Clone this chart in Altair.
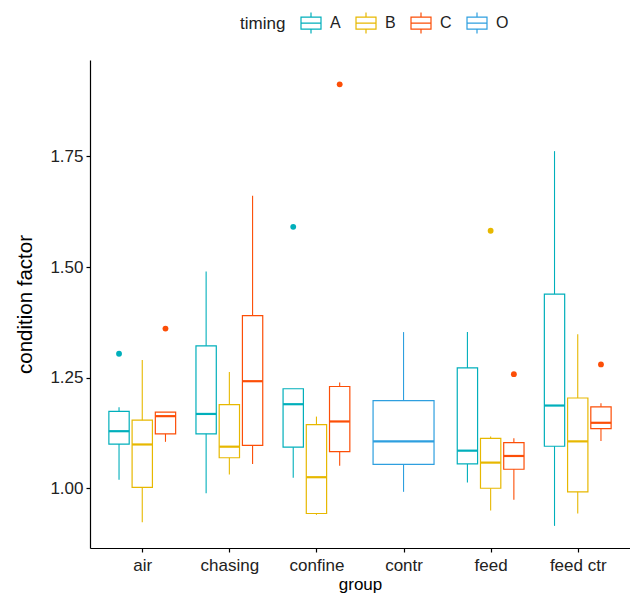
import altair as alt
import pandas as pd

groups = ["air", "chasing", "confine", "contr", "feed", "feed ctr"]
timings = ["A", "B", "C", "O"]
colors = ["#00AFBB", "#E7B800", "#FC4E07", "#2E9FDF"]

box_group = ["air", "air", "air", "chasing", "chasing", "chasing",
             "confine", "confine", "confine", "contr",
             "feed", "feed", "feed", "feed ctr", "feed ctr", "feed ctr"]
box_timing = ["A", "B", "C", "A", "B", "C", "A", "B", "C", "O",
              "A", "B", "C", "A", "B", "C"]
lower = [1.019, 0.923, 1.105, 0.989, 1.031, 1.055, 1.024, 0.940, 1.051, 0.992,
         1.013, 0.950, 0.974, 0.915, 0.943, 1.107]
q1 = [1.100, 1.002, 1.123, 1.123, 1.069, 1.097, 1.093, 0.943, 1.083, 1.054,
      1.055, 1.000, 1.043, 1.095, 0.992, 1.135]
median = [1.129, 1.099, 1.163, 1.168, 1.094, 1.242, 1.190, 1.025, 1.151, 1.106,
          1.085, 1.058, 1.073, 1.187, 1.106, 1.148]
q3 = [1.174, 1.154, 1.172, 1.322, 1.189, 1.390, 1.225, 1.144, 1.230, 1.198,
      1.272, 1.113, 1.103, 1.439, 1.204, 1.184]
upper = [1.183, 1.290, 1.172, 1.490, 1.263, 1.661, 1.225, 1.162, 1.239, 1.353,
         1.353, 1.117, 1.113, 1.762, 1.348, 1.192]

out_group = ["air", "air", "confine", "confine", "feed", "feed", "feed ctr"]
out_timing = ["A", "C", "A", "C", "B", "C", "C"]
out_value = [1.304, 1.361, 1.591, 1.913, 1.582, 1.258, 1.280]

# dodge layout (position_dodge 0.8, box width 0.7)
per_group = {g: [t for gg, t in zip(box_group, box_timing) if gg == g] for g in groups}


def layout(g, t):
    ts = per_group[g]
    n = len(ts)
    slot = ts.index(t)
    center = groups.index(g) + (slot - (n - 1) / 2) * 0.8 / n
    half = 0.7 / n / 2
    return center, center - half, center + half


rows = []
for g, t, lo, a, m, b, hi in zip(box_group, box_timing, lower, q1, median, q3, upper):
    c, l, r = layout(g, t)
    rows.append(dict(group=g, timing=t, lower=lo, q1=a, median=m, q3=b, upper=hi,
                     xc=c, xl=l, xr=r))
boxes = pd.DataFrame(rows)

orows = []
for g, t, v in zip(out_group, out_timing, out_value):
    c, l, r = layout(g, t)
    orows.append(dict(group=g, pt_timing=t, value=v, xc=c))
outs = pd.DataFrame(orows)

label_expr = "[" + ",".join("'" + g + "'" for g in groups) + "][datum.value]"

xscale = alt.Scale(domain=[-0.6, len(groups) - 0.4], nice=False, zero=False)
yscale = alt.Scale(domain=[0.865, 1.968], nice=False, zero=False)
cscale = alt.Scale(domain=timings, range=colors)

xaxis = alt.Axis(values=list(range(len(groups))), labelExpr=label_expr, title="group",
                 grid=False, tickSize=4, labelPadding=5, labelFontSize=17,
                 titleFontSize=17, titlePadding=3)
yaxis = alt.Axis(values=[1.0, 1.25, 1.5, 1.75], format=".2f", title="condition factor",
                 grid=False, tickSize=4, labelPadding=3, labelFontSize=17,
                 titleFontSize=20.5, titlePadding=14)

glyph = "M-1,-0.6H1V0.6H-1Z M-1,0H1 M0,-0.6V-1.05 M0,0.6V1.05"

legend = alt.Legend(
    title="timing", orient="none", direction="horizontal", titleOrient="left",
    legendX=150, legendY=-48, symbolType=glyph, symbolSize=400,
    symbolStrokeWidth=1.2, symbolFillColor="white", labelFontSize=16,
    titleFontSize=17, titleFontWeight="normal", titlePadding=14,
    labelOffset=8, columnPadding=12, labelColor="#222222", titleColor="#222222")

base = alt.Chart(boxes)

whisk_lo = base.mark_rule(strokeWidth=1.1).encode(
    x=alt.X("xc:Q", scale=xscale, axis=xaxis),
    y=alt.Y("lower:Q", scale=yscale, axis=yaxis),
    y2="q1:Q",
    stroke=alt.Stroke("timing:N", scale=cscale, legend=None),
)

whisk_hi = base.mark_rule(strokeWidth=1.1).encode(
    x="xc:Q", y="q3:Q", y2="upper:Q",
    stroke=alt.Stroke("timing:N", scale=cscale, legend=None),
)

box = base.mark_rect(filled=False, strokeWidth=1.2).encode(
    x="xl:Q", x2="xr:Q", y="q1:Q", y2="q3:Q",
    stroke=alt.Stroke("timing:N", scale=cscale, legend=legend),
)

med = base.mark_rule(strokeWidth=2.2).encode(
    x="xl:Q", x2="xr:Q", y="median:Q",
    stroke=alt.Stroke("timing:N", scale=cscale, legend=None),
)

pts = alt.Chart(outs).mark_circle(size=34, opacity=1).encode(
    x="xc:Q", y="value:Q",
    fill=alt.Fill("pt_timing:N", scale=cscale, legend=None),
)

chart = alt.layer(whisk_lo, whisk_hi, box, med, pts).resolve_scale(
    stroke="independent", fill="independent"
).properties(
    width=540, height=488,
    padding={"left": 7, "top": 4, "right": 0, "bottom": 4},
).configure(font="Liberation Sans").configure_view(stroke=None).configure_axis(
    domainColor="black", tickColor="black", labelColor="#222222", titleColor="black",
    titleFontWeight="normal", domainWidth=1.2, tickWidth=1.2,
)

chart.save("out.html", embed_options={"renderer": "svg", "actions": False})
